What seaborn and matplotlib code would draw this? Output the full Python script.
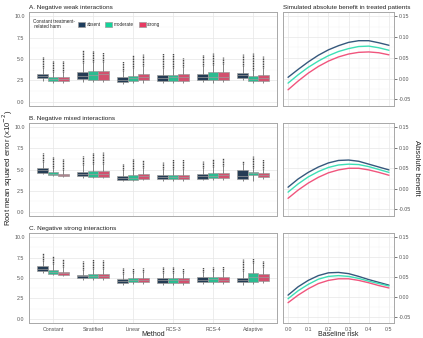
import numpy as np
import pandas as pd
import matplotlib
matplotlib.use("Agg")
import matplotlib.pyplot as plt
import seaborn as sns
from matplotlib.patches import Patch
from matplotlib.ticker import AutoMinorLocator

methods = ["Constant", "Stratified", "Linear", "RCS-3", "RCS-4", "Adaptive"]
harm_levels = ["absent", "moderate", "strong"]
panel_titles = ["A. Negative weak interactions",
                "B. Negative mixed interactions",
                "C. Negative strong interactions"]

# per method, per harm level: (lower whisker, q1, median, q3, upper whisker, top outlier)
weak_boxes = [
    [(2.45, 2.75, 3.00, 3.30, 3.9, 5.20), (2.25, 2.45, 2.65, 2.88, 3.5, 4.80), (2.25, 2.45, 2.70, 2.90, 3.5, 4.80)],
    [(2.35, 2.65, 3.00, 3.50, 4.5, 6.00), (2.30, 2.60, 3.10, 3.55, 4.6, 5.90), (2.30, 2.60, 3.20, 3.60, 4.7, 5.80)],
    [(2.10, 2.33, 2.60, 2.90, 3.6, 4.80), (2.15, 2.40, 2.75, 3.05, 3.9, 5.50), (2.25, 2.52, 2.95, 3.30, 4.2, 5.60)],
    [(2.20, 2.45, 2.80, 3.15, 4.0, 5.70), (2.20, 2.45, 2.85, 3.15, 4.0, 5.70), (2.20, 2.45, 2.85, 3.20, 4.1, 5.15)],
    [(2.30, 2.55, 2.95, 3.30, 4.2, 5.50), (2.25, 2.52, 2.95, 3.45, 4.3, 5.70), (2.30, 2.55, 2.95, 3.50, 4.4, 5.20)],
    [(2.50, 2.75, 3.10, 3.40, 4.2, 5.60), (2.25, 2.45, 2.70, 3.00, 3.7, 5.70), (2.25, 2.45, 2.80, 3.15, 3.9, 5.30)],
]
mixed_boxes = [
    [(4.45, 4.60, 4.90, 5.17, 5.9, 6.95), (4.25, 4.37, 4.50, 4.70, 5.2, 6.50), (4.15, 4.22, 4.35, 4.48, 4.9, 6.20)],
    [(4.00, 4.18, 4.45, 4.75, 5.5, 6.60), (4.00, 4.15, 4.50, 4.80, 5.6, 6.95), (4.00, 4.15, 4.50, 4.80, 5.6, 7.10)],
    [(3.60, 3.76, 4.00, 4.25, 4.9, 5.65), (3.60, 3.76, 4.05, 4.33, 5.0, 6.20), (3.75, 3.92, 4.20, 4.48, 5.2, 6.10)],
    [(3.65, 3.84, 4.10, 4.40, 5.1, 5.85), (3.65, 3.84, 4.10, 4.40, 5.1, 6.20), (3.65, 3.84, 4.10, 4.40, 5.1, 6.20)],
    [(3.70, 3.90, 4.20, 4.50, 5.2, 6.00), (3.70, 3.95, 4.25, 4.55, 5.3, 6.20), (3.70, 3.95, 4.30, 4.60, 5.4, 6.40)],
    [(3.65, 3.86, 4.25, 4.90, 5.7, 6.00), (3.60, 4.36, 4.55, 4.74, 5.2, 6.60), (3.90, 4.17, 4.36, 4.55, 5.1, 6.30)],
]
strong_boxes = [
    [(5.60, 5.82, 6.15, 6.43, 7.1, 8.05), (5.35, 5.49, 5.78, 6.02, 6.7, 7.65), (5.20, 5.33, 5.57, 5.74, 6.3, 7.35)],
    [(4.75, 4.96, 5.20, 5.41, 6.0, 7.05), (4.75, 4.96, 5.20, 5.45, 6.1, 7.35), (4.75, 4.96, 5.20, 5.45, 6.1, 7.15)],
    [(4.20, 4.43, 4.67, 4.92, 5.5, 6.20), (4.25, 4.47, 4.70, 4.96, 5.6, 6.25), (4.30, 4.55, 4.80, 5.04, 5.7, 6.25)],
    [(4.20, 4.43, 4.72, 4.96, 5.6, 6.40), (4.20, 4.43, 4.72, 4.96, 5.6, 6.35), (4.20, 4.43, 4.72, 4.96, 5.6, 6.25)],
    [(4.30, 4.50, 4.80, 5.08, 5.7, 6.35), (4.30, 4.50, 4.85, 5.12, 5.8, 6.35), (4.30, 4.57, 4.80, 5.10, 5.8, 6.45)],
    [(4.20, 4.48, 4.73, 5.02, 5.8, 7.30), (4.30, 4.57, 5.10, 5.64, 6.8, 7.50), (4.40, 4.69, 5.10, 5.51, 6.4, 7.10)],
]

baseline_risk = [0.0, 0.05, 0.10, 0.15, 0.20, 0.25, 0.30, 0.35, 0.40, 0.45, 0.50]
weak_benefit = [
    [0.003, 0.022, 0.040, 0.056, 0.069, 0.079, 0.087, 0.091, 0.091, 0.086, 0.080],
    [-0.011, 0.009, 0.027, 0.042, 0.055, 0.065, 0.072, 0.077, 0.078, 0.074, 0.068],
    [-0.027, -0.006, 0.013, 0.029, 0.042, 0.052, 0.059, 0.063, 0.064, 0.062, 0.057],
]
mixed_benefit = [
    [0.004, 0.024, 0.040, 0.053, 0.063, 0.069, 0.070, 0.067, 0.060, 0.053, 0.046],
    [-0.008, 0.012, 0.029, 0.042, 0.052, 0.058, 0.060, 0.059, 0.054, 0.047, 0.040],
    [-0.023, -0.003, 0.014, 0.028, 0.039, 0.046, 0.050, 0.050, 0.046, 0.040, 0.033],
]
strong_benefit = [
    [0.004, 0.025, 0.041, 0.053, 0.060, 0.061, 0.058, 0.051, 0.043, 0.036, 0.029],
    [-0.005, 0.015, 0.031, 0.044, 0.051, 0.053, 0.051, 0.046, 0.039, 0.033, 0.027],
    [-0.015, 0.004, 0.020, 0.033, 0.041, 0.045, 0.045, 0.041, 0.035, 0.028, 0.022],
]

box_colors = {"absent": "#1d3c5c", "moderate": "#14d39a", "strong": "#e83a62"}
line_colors = {"absent": "#35587c", "moderate": "#3ddfb6", "strong": "#f0557d"}

sns.set_theme(style="whitegrid")
plt.rcParams["font.family"] = ["Liberation Sans", "DejaVu Sans"]

W, H = 423, 338


def frac(x0, y0, x1, y1):
    return [x0 / W, 1 - y1 / H, (x1 - x0) / W, (y1 - y0) / H]


def style_axes(ax):
    ax.set_facecolor("white")
    for s in ax.spines.values():
        s.set_color("#a8a8a8")
        s.set_linewidth(0.7)
    ax.grid(True, which="major", color="#e6e6e6", linewidth=0.5)
    ax.grid(True, which="minor", color="#f2f2f2", linewidth=0.3)
    ax.tick_params(which="major", length=2, width=0.5, color="#444444",
                   labelsize=3.8, labelcolor="#555555", pad=1.2)
    ax.tick_params(which="minor", length=0)
    ax.set_axisbelow(True)


def box_frame(boxes):
    rows = []
    for i, m in enumerate(methods):
        for j, h in enumerate(harm_levels):
            for v in boxes[i][j][:5]:
                rows.append({"method": m, "harm": h, "rmse": v})
    return pd.DataFrame(rows)


fig = plt.figure(figsize=(W / 100, H / 100), dpi=100)

left_pos = [(12, 106), (123, 216), (233, 323)]
all_boxes = [weak_boxes, mixed_boxes, strong_boxes]
all_benefit = [weak_benefit, mixed_benefit, strong_benefit]
box_width = 0.78

for k in range(3):
    y0, y1 = left_pos[k]
    ax = fig.add_axes(frac(29, y0, 277, y1))
    df = box_frame(all_boxes[k])
    sns.boxplot(data=df, x="method", y="rmse", hue="harm", order=methods,
                hue_order=harm_levels, palette=box_colors, width=box_width,
                gap=0, whis=(0, 100), showfliers=False, linecolor="#9c9c9c",
                linewidth=0.5, whiskerprops={"color": "#555555"},
                capprops={"linewidth": 0}, legend=False, ax=ax)
    # outlier columns
    for i in range(len(methods)):
        for j in range(len(harm_levels)):
            lo, q1, med, q3, hi, top = all_boxes[k][i][j]
            xpos = i + (j - 1) * box_width / 3
            ax.vlines(xpos, hi, top, colors="#222222", linewidth=1.0,
                      linestyles=(0, (0.7, 0.5)))
    style_axes(ax)
    ax.set_xlim(-0.6, 5.6)
    ax.set_ylim(-0.5, 10.5)
    ax.set_yticks([0, 2.5, 5, 7.5, 10])
    ax.set_yticklabels(["0.0", "2.5", "5.0", "7.5", "10.0"])
    ax.yaxis.set_minor_locator(AutoMinorLocator(2))
    ax.set_xlabel("")
    ax.set_ylabel("")
    if k < 2:
        ax.set_xticklabels([])
    ax.set_title(panel_titles[k], loc="left", fontsize=4.6, color="#222222",
                 pad=2.5, x=0.0)
    if k == 0:
        handles = [Patch(facecolor=box_colors[h], edgecolor="#9c9c9c", linewidth=0.5)
                   for h in harm_levels]
        ax.legend(handles, harm_levels, ncol=3, loc="center left",
                  bbox_to_anchor=(0.19, 0.87), frameon=False, fontsize=3.3,
                  handlelength=1.5, handleheight=1.3, columnspacing=1.0,
                  handletextpad=0.4, borderaxespad=0)
        ax.text(0.015, 0.87, "Constant treatment-\n related harm", transform=ax.transAxes,
                fontsize=3.3, va="center", ha="left", color="#222222", linespacing=1.0)

    # right panel: simulated absolute benefit
    axr = fig.add_axes(frac(283, y0, 394, y1))
    rows = []
    for j, h in enumerate(harm_levels):
        for r, b in zip(baseline_risk, all_benefit[k][j]):
            rows.append({"risk": r, "benefit": b, "harm": h})
    dfl = pd.DataFrame(rows)
    sns.lineplot(data=dfl, x="risk", y="benefit", hue="harm", hue_order=harm_levels,
                 palette=line_colors, linewidth=1.0, legend=False, ax=axr)
    style_axes(axr)
    axr.yaxis.tick_right()
    axr.set_xlim(-0.025, 0.525)
    axr.set_ylim(-0.066, 0.16)
    axr.set_yticks([-0.05, 0.0, 0.05, 0.10, 0.15])
    axr.set_yticklabels(["-0.05", "0.00", "0.05", "0.10", "0.15"])
    axr.set_xticks([0.0, 0.1, 0.2, 0.3, 0.4, 0.5])
    axr.xaxis.set_minor_locator(AutoMinorLocator(2))
    axr.yaxis.set_minor_locator(AutoMinorLocator(2))
    axr.set_xlabel("")
    axr.set_ylabel("")
    if k < 2:
        axr.set_xticklabels([])
    else:
        axr.set_xticklabels(["0.0", "0.1", "0.2", "0.3", "0.4", "0.5"])
    if k == 0:
        axr.set_title("Simulated absolute benefit in treated patients", loc="left",
                      fontsize=4.6, color="#222222", pad=2.5, x=0.0)

fig.text(8 / W, 1 - 168 / H, "Root mean squared error (x10$^{-2}$)", rotation=90,
         ha="center", va="center", fontsize=5.6, color="#222222")
fig.text(416 / W, 1 - 168 / H, "Absolute benefit", rotation=270,
         ha="center", va="center", fontsize=5.6, color="#222222")
fig.text(153 / W, 1 - 335 / H, "Method", ha="center", va="center",
         fontsize=5.0, color="#222222")
fig.text(338 / W, 1 - 335 / H, "Baseline risk", ha="center", va="center",
         fontsize=5.0, color="#222222")

fig.savefig("out.png", dpi=100)
